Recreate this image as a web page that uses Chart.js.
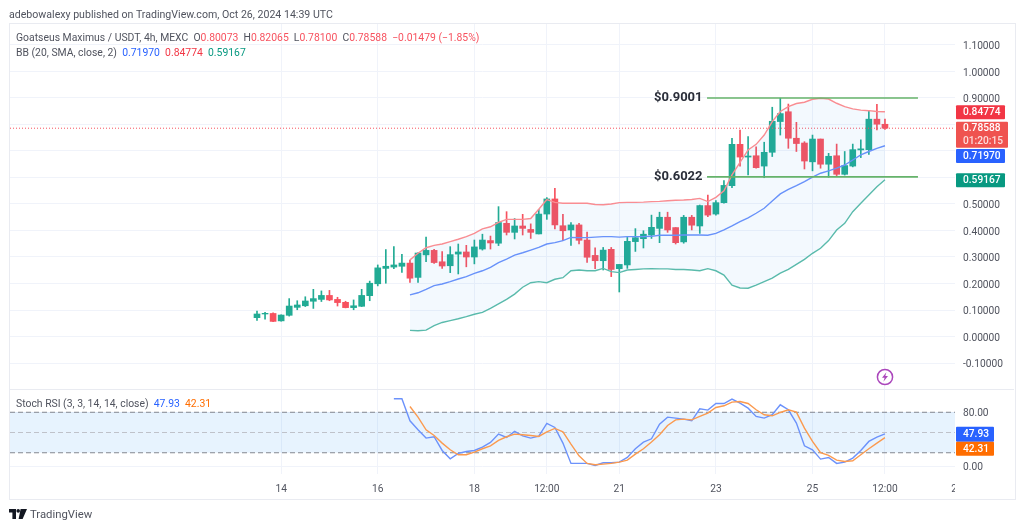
<!DOCTYPE html>
<html>
<head>
<meta charset="utf-8">
<title>Goatseus Maximus / USDT</title>
<script src="https://cdn.jsdelivr.net/npm/chart.js@4/dist/chart.umd.min.js"></script>
<style>
  html, body { margin: 0; padding: 0; background: #fff; }
  body { width: 1024px; height: 530px; position: relative; overflow: hidden; font-family: Roboto, sans-serif; }
  #all { position: absolute; left: 0; top: 0; width: 1024px; height: 530px; filter: blur(0.35px); }
  #c { position: absolute; left: 0; top: 0; }
  #frame { position: absolute; left: 9px; top: 23px; width: 1005px; height: 475px; border: 1px solid #e9ebf1; pointer-events: none; }
  #cut { position: absolute; left: 955px; top: 478px; width: 30px; height: 18px; background: #fff; }
  .t { position: absolute; white-space: pre; font-size: 10.4px; line-height: 14px; color: #50535e; }
  .red { color: #f7525f; } .blue { color: #2962ff; } .pink { color: #f23645; } .teal { color: #089981; }
  svg { position: absolute; }
</style>
</head>
<body>
<div id="all">
<canvas id="c" width="1024" height="530"></canvas>
<div id="cut"></div>
<div id="frame"></div>
<div class="t" style="left:9px;top:8px;font-size:10.6px">adebowalexy published on TradingView.com, Oct 26, 2024 14:39 UTC</div>
<div class="t" style="left:16px;top:31px">Goatseus Maximus / USDT, 4h, MEXC  O<span class="red">0.80073</span>  H<span class="red">0.82065</span>  L<span class="red">0.78100</span>  C<span class="red">0.78588</span>  <span class="red">−0.01479 (−1.85%)</span></div>
<div class="t" style="left:16px;top:46px">BB (20, SMA, close, 2)  <span class="blue">0.71970</span>  <span class="pink">0.84774</span>  <span class="teal">0.59167</span></div>
<div class="t" style="left:16px;top:397px">Stoch RSI (3, 3, 14, 14, close)  <span class="blue">47.93</span>  <span style="color:#ff6d00">42.31</span></div>
<svg style="left:876px;top:368px" width="18" height="18" viewBox="0 0 18 18">
  <circle cx="9" cy="9" r="7.6" fill="#fff" stroke="#ab47bc" stroke-width="1.5"/>
  <path d="M10.4 4.2 L6 9.8 H8.6 L7.4 13.8 L12 8 H9.3 Z" fill="#ab47bc"/>
</svg>
<svg style="left:9px;top:509px" width="18" height="11" viewBox="0 0 18 11">
  <path d="M0 0 H7 V10 H3.4 V3.4 H0 Z M11.6 0 H18 L13.6 10 H9.6 Z" fill="#131722"/>
  <circle cx="9.2" cy="1.9" r="1.8" fill="#131722"/>
</svg>
<div class="t" style="left:30px;top:508px;font-size:11.3px;color:#50535e">TradingView</div>
</div>

<script>
// velas de 4h, la primera es la del 13 oct 12:00
const opens = [
  .071, .085, .087, .059, .080, .110, .116, .133, .140, .155,
  .140, .129, .109, .114, .154, .199, .257, .262, .265, .277,
  .223, .308, .325, .282, .267, .311, .319, .300, .330, .362,
  .352, .427, .393, .417, .404, .387, .462, .519, .418, .402,
  .421, .364, .306, .286, .329, .256, .270, .358, .369, .383,
  .408, .450, .411, .357, .450, .417, .494, .462, .505, .569,
  .725, .677, .682, .643, .695, .811, .848, .748, .730, .659,
  .745, .650, .682, .612, .643, .704, .705, .820, .80073
];
const highs = [
  .096, .091, .089, .082, .143, .135, .150, .178, .172, .174,
  .148, .133, .138, .178, .209, .270, .328, .339, .310, .288,
  .316, .375, .329, .320, .339, .349, .344, .364, .386, .379,
  .490, .471, .445, .461, .425, .480, .524, .559, .461, .430,
  .427, .394, .335, .336, .336, .272, .374, .407, .399, .458,
  .469, .469, .411, .457, .457, .496, .534, .513, .588, .748,
  .779, .754, .716, .733, .865, .899, .877, .808, .735, .760,
  .745, .691, .726, .698, .726, .742, .851, .876, .82065
];
const lows = [
  .061, .065, .056, .058, .077, .101, .113, .106, .132, .135,
  .115, .108, .101, .113, .135, .191, .201, .256, .242, .204,
  .204, .282, .276, .257, .241, .236, .263, .274, .326, .330,
  .343, .383, .368, .383, .370, .387, .442, .406, .362, .344,
  .349, .280, .256, .251, .226, .168, .257, .321, .334, .370,
  .354, .393, .349, .352, .402, .389, .452, .458, .503, .562,
  .643, .610, .635, .599, .679, .760, .710, .698, .632, .625,
  .635, .601, .607, .609, .640, .675, .687, .779, .78100
];
const closes = [
  .085, .0875, .057, .081, .115, .119, .134, .143, .155, .138,
  .128, .109, .116, .155, .201, .259, .265, .270, .277, .220,
  .315, .325, .279, .266, .309, .319, .300, .338, .364, .353,
  .430, .393, .417, .408, .393, .462, .519, .421, .399, .421,
  .363, .299, .286, .326, .253, .272, .359, .373, .386, .412,
  .450, .402, .354, .450, .420, .494, .458, .505, .570, .725,
  .677, .681, .637, .695, .812, .841, .748, .728, .662, .745,
  .650, .680, .612, .645, .705, .708, .820, .801, .78588
];

// Bollinger, empieza en la vela 19
const bbStart = 19;
const bbUpper = [
  .289, .314, .335, .344, .349, .358, .367, .377, .389, .406, .414, .431,
  .442, .442, .442, .445, .480, .517, .506, .503, .503, .503, .503, .498, .497, .500,
  .505, .506, .506, .507, .509, .510, .512, .514, .515, .517, .521, .509, .525, .550,
  .610, .657, .704, .725, .760, .811, .849, .867, .879, .884, .895, .899, .896, .880,
  .867, .859, .854, .852, .849, .84774
];
const bbBasis = [
  .157, .165, .178, .192, .198, .207, .217, .226, .238, .248, .261, .279,
  .292, .307, .316, .326, .336, .349, .354, .362, .374, .373, .373, .375, .377, .377,
  .375, .377, .377, .377, .378, .382, .382, .382, .383, .383, .383, .382, .389, .402,
  .417, .433, .448, .465, .484, .511, .538, .555, .569, .584, .601, .616, .625, .635,
  .647, .666, .685, .698, .710, .7197
];
const bbLower = [
  .023, .022, .024, .041, .053, .060, .067, .075, .084, .091, .106, .123,
  .140, .160, .186, .203, .207, .203, .216, .222, .248, .251, .248, .248, .257, .245,
  .241, .251, .253, .255, .256, .255, .255, .253, .253, .251, .248, .256, .248, .232,
  .194, .183, .182, .194, .207, .220, .239, .253, .272, .291, .314, .333, .362, .402,
  .427, .471, .503, .534, .565, .59167
];

// Stoch RSI
const kStart = 17;
const stochK = [
  100, 100, 67.4, 54, 41.7, 43.7, 23.4, 11.1, 19, 21.9, 23.4, 28.4, 35.3, 47.6, 42.7, 51.6, 45.1, 41.7,
  44.7, 63.4, 57.5, 34.3, 4.2, 4.2, 4.2, 1.2, 5.2, 5.2, 6.1, 13, 25.9, 35.8, 40.7, 62.4, 72.8, 71.3,
  69.8, 67.4, 85.1, 83.2, 93, 93, 99.5, 93.5, 86.1, 73.8, 71.3, 76.3, 91.1, 83.7, 63.9, 30.3, 24.4,
  10.6, 13, 4.2, 6.1, 12.1, 23.4, 36.8, 43.2, 47.93
];
const dStart = 19;
const stochD = [
  88.6, 72.8, 54, 45.6, 34.3, 24.4, 17, 17, 21, 25.9, 30.3, 38.2, 43.7, 47.6, 46.6, 45.6, 44.2,
  51.1, 56, 51.1, 32.8, 15.5, 4.2, 2.2, 3.2, 4.2, 6.1, 9.1, 18, 25.9, 35.8, 46.6, 60.4, 68.8,
  69.8, 68.8, 73.8, 78.7, 87.1, 89.6, 95, 96, 93, 83.7, 76.3, 74.8, 79.7, 83.7, 80.2, 56.5, 36.8,
  20, 16, 9.1, 7.1, 8.1, 17, 25.9, 34.3, 42.31
];

// ejes
const priceTicks = [-0.1, 0, 0.1, 0.2, 0.3, 0.4, 0.5, 0.6, 0.7, 0.8, 0.9, 1.0, 1.1];
const coveredTicks = [0.6, 0.7, 0.8]; // tapados por las etiquetas de la derecha
const rsiTicks = [0, 80];
const rsiBands = [20, 50, 80];
const timeTickIndex = [3, 15, 27, 36, 45, 57, 69, 78, 86.6];
const timeTickLabels = ['14', '16', '18', '12:00', '21', '23', '25', '12:00', '2'];

// niveles dibujados a mano
const levelHigh = 0.9001;
const levelLow = 0.6022;
const levelFrom = 55.9;
const levelTo = 82.1;
const lastPrice = 0.78588;

const xMin = -30.68, xMax = 86.7;
const up = '#22ab94', down = '#f7525f';

const candleColors = closes.map((c, i) => c >= opens[i] ? up : down);
const series = (vals, start) => vals.map((v, i) => ({ x: i + start, y: v }));
const level = (v) => [{ x: levelFrom, y: v }, { x: levelTo, y: v }];
const across = (v) => [{ x: xMin, y: v }, { x: xMax, y: v }];

const line = (label, data, color, extra) => Object.assign({
  type: 'line', label: label, data: data, yAxisID: 'y', borderColor: color,
  borderWidth: 1.4, pointRadius: 0, tension: 0, fill: false, order: 1
}, extra);

const datasets = [
  {
    type: 'bar', label: 'mecha', yAxisID: 'y', grouped: false, order: 4, barThickness: 1,
    data: closes.map((c, i) => ({ x: i, y: [lows[i], highs[i]] })),
    backgroundColor: candleColors
  },
  {
    type: 'bar', label: 'cuerpo', yAxisID: 'y', grouped: false, order: 3, barThickness: 6,
    data: closes.map((c, i) => ({ x: i, y: [opens[i], c] })),
    backgroundColor: candleColors
  },
  line('BB sup', series(bbUpper, bbStart), '#f98d92', { fill: '+1', backgroundColor: 'rgba(33,150,243,0.055)' }),
  line('BB inf', series(bbLower, bbStart), '#5cbcaa'),
  line('BB media', series(bbBasis, bbStart), '#6c92fb'),
  line('Nivel alto', level(levelHigh), '#66b36a', { borderWidth: 1.6, order: 0 }),
  line('Nivel bajo', level(levelLow), '#66b36a', { borderWidth: 1.6, order: 0 }),
  line('Ultimo', across(lastPrice), '#f7525f', { borderWidth: 1, borderDash: [1, 2] }),
  line('Banda 80', across(rsiBands[2]), '#84878f', { yAxisID: 'rsi', borderWidth: 1, borderDash: [5, 3], fill: '+1', backgroundColor: 'rgba(33,150,243,0.11)', order: 2 }),
  line('Banda 20', across(rsiBands[0]), '#84878f', { yAxisID: 'rsi', borderWidth: 1, borderDash: [5, 3], order: 1.5 }),
  line('Banda 50', across(rsiBands[1]), '#bfc2ca', { yAxisID: 'rsi', borderWidth: 1, borderDash: [5, 3], order: 1.5 }),
  line('%K', series(stochK, kStart), '#6c92fb', { yAxisID: 'rsi' }),
  line('%D', series(stochD, dStart), '#fb9a4f', { yAxisID: 'rsi', order: 0 })
];

// etiquetas del eje de precios y textos sobre el grafico
const overlay = {
  id: 'overlay',
  afterDatasetsDraw(chart) {
    const { ctx, chartArea, scales } = chart;
    const left = chartArea.right + 1;

    ctx.save();
    // separador entre paneles
    ctx.strokeStyle = '#e9ebf1';
    ctx.lineWidth = 1;
    ctx.beginPath();
    ctx.moveTo(chartArea.left, scales.y.bottom + 0.5);
    ctx.lineTo(1014, scales.y.bottom + 0.5);
    ctx.stroke();

    ctx.font = 'bold 13px Roboto, sans-serif';
    ctx.fillStyle = '#2a2e39';
    ctx.textBaseline = 'middle';
    ctx.textAlign = 'left';
    ctx.fillText('$0.9001', 654, scales.y.getPixelForValue(levelHigh));
    ctx.fillText('$0.6022', 654, scales.y.getPixelForValue(levelLow));

    const tag = (scale, value, text, color, nudge, w, h, text2) => {
      const cy = scale.getPixelForValue(value) + nudge;
      ctx.fillStyle = color;
      ctx.beginPath();
      ctx.roundRect(left, cy - h / 2, w, h, 1);
      ctx.fill();
      ctx.font = '500 10.2px Roboto, sans-serif';
      ctx.fillStyle = '#fff';
      ctx.textAlign = 'left';
      if (text2) {
        ctx.fillText(text, left + 7, cy - 6.2);
        ctx.fillStyle = 'rgba(255,255,255,0.8)';
        ctx.fillText(text2, left + 7, cy + 6.8);
      } else {
        ctx.fillText(text, left + 7, cy + 0.5);
      }
    };
    tag(scales.y, bbUpper[bbUpper.length - 1], bbUpper[bbUpper.length - 1].toFixed(5), '#f23645', 0.4, 49, 14);
    tag(scales.y, lastPrice, lastPrice.toFixed(5), '#ef5350', 6.5, 52, 26, '01:20:15');
    tag(scales.y, bbBasis[bbBasis.length - 1], bbBasis[bbBasis.length - 1].toFixed(5), '#2962ff', 10.2, 49, 14);
    tag(scales.y, bbLower[bbLower.length - 1], bbLower[bbLower.length - 1].toFixed(5), '#089981', 0.6, 49, 14);
    tag(scales.rsi, stochK[stochK.length - 1], stochK[stochK.length - 1].toFixed(2), '#2962ff', 0.3, 38, 15);
    tag(scales.rsi, stochD[stochD.length - 1], stochD[stochD.length - 1].toFixed(2), '#ff6d00', 11, 38, 14);
    ctx.restore();
  }
};

const axisText = { color: '#50535e', font: { size: 10.2, family: 'Roboto, sans-serif' } };
// dos lineas con la primera vacia: baja la etiqueta 1.5px respecto a la rejilla
const yAxisFont = { size: 10.2, family: 'Roboto, sans-serif', lineHeight: '3px' };
const gridColor = '#f0f3fa';

new Chart(document.getElementById('c'), {
  type: 'bar',
  data: { datasets: datasets },
  plugins: [overlay],
  options: {
    responsive: false,
    animation: false,
    layout: { padding: { left: 10, top: 24, right: 9, bottom: 31 } },
    plugins: { legend: { display: false }, tooltip: { enabled: false }, title: { display: false } },
    scales: {
      x: {
        type: 'linear',
        min: xMin,
        max: xMax,
        offset: false,
        border: { display: false },
        grid: {
          offset: false,
          drawTicks: false,
          // el ultimo dia queda cortado por el eje, sin linea
          color: (c) => c.tick && c.tick.value > 80 ? 'transparent' : gridColor
        },
        afterBuildTicks: (s) => { s.ticks = timeTickIndex.map((v) => ({ value: v })); },
        afterFit: (s) => { s.height = 25; },
        ticks: Object.assign({}, axisText, {
          autoSkip: false, maxRotation: 0, padding: 9,
          callback: (v) => timeTickLabels[timeTickIndex.indexOf(v)]
        })
      },
      y: {
        position: 'right',
        stack: 'panes',
        stackWeight: 365,
        min: -0.198,
        max: 1.179,
        border: { display: false },
        grid: { color: gridColor, drawTicks: false },
        afterBuildTicks: (s) => { s.ticks = priceTicks.map((v) => ({ value: v })); },
        afterFit: (s) => { s.width = 60; },
        ticks: {
          color: axisText.color, font: yAxisFont, padding: 8,
          callback: (v) => coveredTicks.includes(v) ? '' : ['', v.toFixed(5)]
        }
      },
      rsi: {
        position: 'right',
        stack: 'panes',
        stackWeight: 85,
        min: -11.5,
        max: 114.5,
        border: { display: false },
        grid: { color: gridColor, drawTicks: false },
        afterBuildTicks: (s) => { s.ticks = rsiTicks.map((v) => ({ value: v })); },
        afterFit: (s) => { s.width = 60; },
        ticks: { color: axisText.color, font: yAxisFont, padding: 8, callback: (v) => ['', v.toFixed(2)] }
      }
    }
  }
});
</script>
</body>
</html>
